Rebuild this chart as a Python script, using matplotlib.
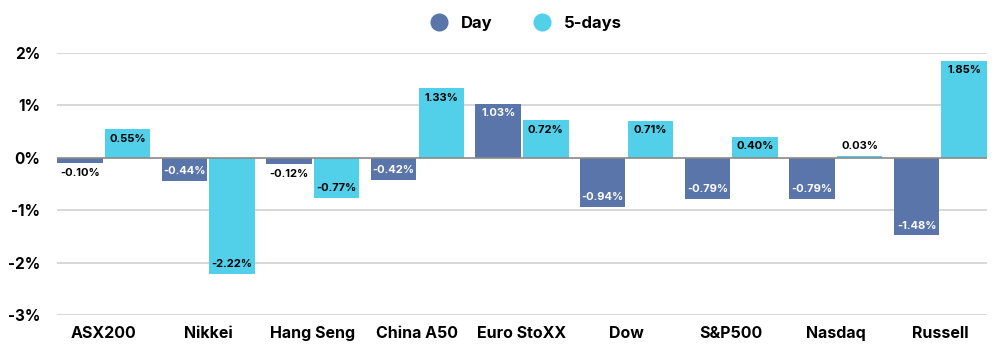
import matplotlib.pyplot as plt
import numpy as np
from matplotlib.lines import Line2D

# dados do gráfico
indices = ['ASX200', 'Nikkei', 'Hang Seng', 'China A50', 'Euro StoXX',
           'Dow', 'S&P500', 'Nasdaq', 'Russell']
day = [-0.10, -0.44, -0.12, -0.42, 1.03, -0.94, -0.79, -0.79, -1.48]
five_days = [0.55, -2.22, -0.77, 1.33, 0.72, 0.71, 0.40, 0.03, 1.85]
yticks = [2, 1, 0, -1, -2, -3]

cor_day = '#5A75AA'
cor_5d = '#52D0EA'

plt.rcParams['font.family'] = ['Inter', 'DejaVu Sans']

fig = plt.figure(figsize=(10, 3.55), dpi=100)
ax = fig.add_axes([0.057, 0.1127, 0.93, 0.7383])

x = np.arange(len(indices))
w = 0.435
off = 0.228
b1 = ax.bar(x - off, day, w, color=cor_day, zorder=3)
b2 = ax.bar(x + off, five_days, w, color=cor_5d, zorder=3)

ax.set_ylim(-3, 2)
ax.set_xlim(-0.446, len(indices) - 0.554)

for yv in yticks:
    if yv == 0:
        continue
    ax.axhline(yv, color='#D4D4D4', lw=1.3, zorder=1)
ax.axhline(0, color='#8A8A8A', lw=1.2, zorder=4)

def rotula(bars, vals, cor_dentro):
    for b, v in zip(bars, vals):
        cx = b.get_x() + b.get_width() / 2
        txt = f'{v:.2f}%'
        if abs(v) < 0.3:
            # fora da barra
            dy = 7.5 if v >= 0 else -7
            cor = 'black'
        else:
            dy = -7 if v >= 0 else 7
            cor = cor_dentro
        ax.annotate(txt, (cx, v), xytext=(0, dy), textcoords='offset points',
                    ha='center', va='center', fontsize=8, fontweight='bold',
                    color=cor, zorder=5)

rotula(b1, day, 'white')
rotula(b2, five_days, 'black')

ax.set_yticks(yticks)
ax.set_yticklabels([f'{v}%' for v in yticks], fontsize=11, fontweight='bold')
ax.set_xticks(x)
ax.set_xticklabels(indices, fontsize=11.5, fontweight='bold')
ax.tick_params(length=0, pad=8)
ax.tick_params(axis='y', pad=12)
for s in ax.spines.values():
    s.set_visible(False)

handles = [Line2D([], [], marker='o', ls='', color=cor_day, markersize=12),
           Line2D([], [], marker='o', ls='', color=cor_5d, markersize=12)]
fig.legend(handles, ['Day', '5-days'], loc='center', bbox_to_anchor=(0.522, 0.935),
           ncol=2, frameon=False, prop={'weight': 'bold', 'size': 12},
           handletextpad=0.3, columnspacing=2.0)

fig.savefig('out.png', dpi=100)
